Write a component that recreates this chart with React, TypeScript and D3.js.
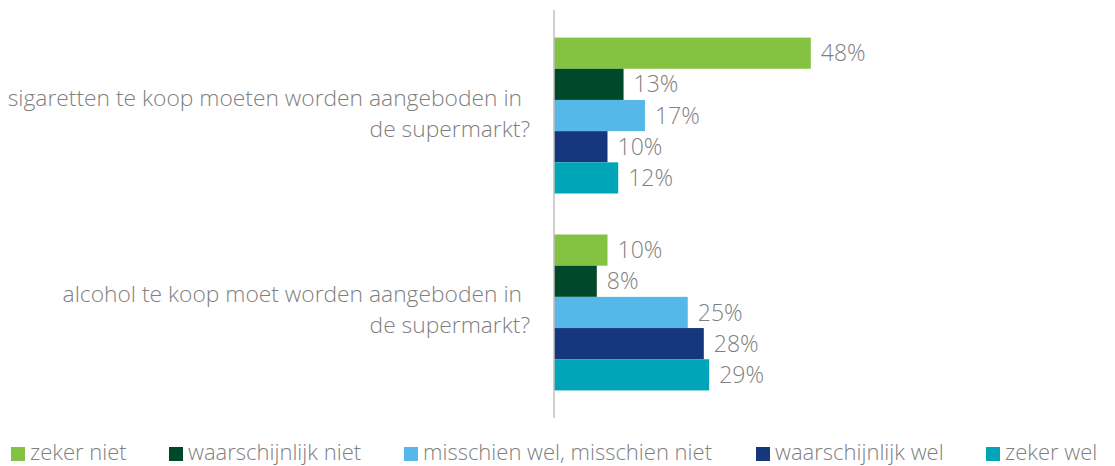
import React from "react";
import * as d3 from "d3";

const categories = [
  ["sigaretten te koop moeten worden aangeboden in", "de supermarkt?"],
  ["alcohol te koop moet worden aangeboden in", "de supermarkt?"],
];
const seriesNames = [
  "zeker niet",
  "waarschijnlijk niet",
  "misschien wel, misschien niet",
  "waarschijnlijk wel",
  "zeker wel",
];
const seriesColors = ["#84C341", "#00482A", "#55B8E8", "#17377C", "#00A6B8"];
const sigaretten = [48, 13, 17, 10, 12];
const alcohol = [10, 8, 25, 28, 29];
const values = [sigaretten, alcohol];

const W = 1115;
const H = 466;
const FONT = "'Open Sans', sans-serif";
const TEXT = "#7F7F80";

export default function App() {
  const catIdx = categories.map((_, i) => String(i));
  const y0 = d3
    .scaleBand<string>()
    .domain(catIdx)
    .range([10, 418])
    .paddingInner(41 / 197)
    .paddingOuter(0.14);
  const y1 = d3
    .scaleBand<string>()
    .domain(seriesNames)
    .range([0, y0.bandwidth()]);
  const x = d3.scaleLinear().domain([0, 60]).range([554, 875]);

  const legendX = [11, 169, 404, 756, 986];

  return (
    <div style={{ position: "absolute", left: 0, top: 0 }}>
      <svg width={W} height={H} style={{ display: "block" }} fontFamily={FONT}>
        <rect width={W} height={H} fill="#fff" />
        {values.map((vals, ci) => (
          <g key={ci} transform={`translate(0,${y0(String(ci))})`}>
            {vals.map((v, si) => (
              <g key={si}>
                <rect
                  x={x(0)}
                  y={y1(seriesNames[si])}
                  width={x(v) - x(0)}
                  height={y1.bandwidth()}
                  fill={seriesColors[si]}
                />
                <text
                  x={x(v) + 10}
                  y={(y1(seriesNames[si]) as number) + y1.bandwidth() / 2}
                  dy="0.35em"
                  fontSize={23}
                  fontWeight={300}
                  fill={TEXT}
                >
                  {v}%
                </text>
              </g>
            ))}
          </g>
        ))}
        <line x1={x(0)} x2={x(0)} y1={10} y2={418} stroke="#BFBFBF" strokeWidth={1.5} />
        {categories.map((lines, ci) => {
          const cy = (y0(String(ci)) as number) + y0.bandwidth() / 2;
          return (
            <text key={ci} textAnchor="end" fontSize={22.8} fontWeight={300} fill={TEXT}>
              <tspan x={522} y={cy - 10}>{lines[0]}</tspan>
              <tspan x={530} y={cy + 21}>{lines[1]}</tspan>
            </text>
          );
        })}
        {seriesNames.map((name, si) => (
          <g key={name} transform={`translate(${legendX[si]},460)`}>
            <rect x={0} y={-13} width={14} height={14} fill={seriesColors[si]} />
            <text x={19} y={0} fontSize={22} fontWeight={300} fill={TEXT}>
              {name}
            </text>
          </g>
        ))}
      </svg>
    </div>
  );
}
